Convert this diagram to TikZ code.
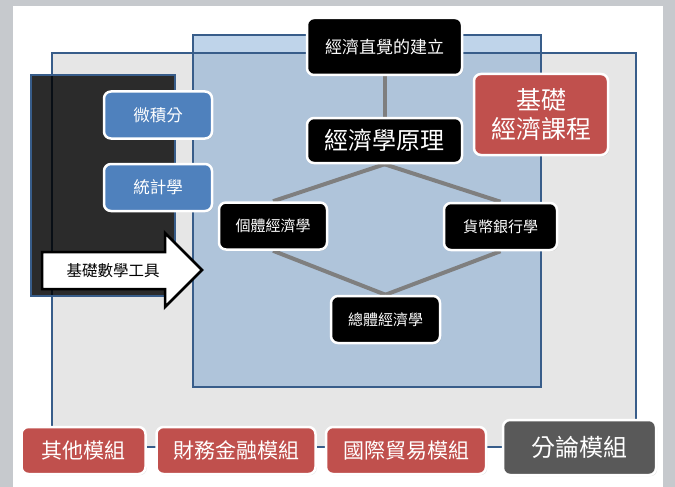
\documentclass[tikz,border=0pt]{standalone}
\usepackage{fontspec}
\setmainfont{Noto Sans CJK TC}
\usetikzlibrary{shadows}
\pgfdeclarelayer{panels}
\pgfdeclarelayer{links}
\pgfsetlayers{panels,links,main}
\definecolor{framegrey}{HTML}{C6C9CD}
\definecolor{panelgrey}{HTML}{E6E6E6}
\definecolor{panelblue}{RGB}{80,136,197}
\definecolor{paneldark}{HTML}{2B2B2B}
\definecolor{edgeblue}{HTML}{385D8A}
\definecolor{boxblue}{HTML}{4F81BD}
\definecolor{boxred}{HTML}{C0504D}
\definecolor{boxdark}{HTML}{595959}
\definecolor{linkgrey}{HTML}{7F7F7F}
\begin{document}
\begin{tikzpicture}[x=1pt,y=-1pt,
  card/.style={rounded corners=7pt, draw=white, line width=2.5pt, inner sep=0pt,
    align=center, text=white,
    drop shadow={opacity=0.25, shadow xshift=1.2pt, shadow yshift=-1.2pt}},
  blackcard/.style={card, fill=black},
  bluecard/.style={card, fill=boxblue},
  redcard/.style={card, fill=boxred},
  darkcard/.style={card, fill=boxdark},
  link/.style={draw=linkgrey, line width=4pt},
  paneledge/.style={draw=edgeblue, line width=1.8pt},
  fs/.style={font=\fontsize{#1}{#1}\selectfont}
]
\useasboundingbox (0,0) rectangle (675,487);
\begin{pgfonlayer}{panels}
\fill[framegrey] (0,0) rectangle (675,487);
\fill[white] (13,6) rectangle (663,487);
\fill[panelgrey] (52,53) rectangle (636,447);
\fill[panelblue, fill opacity=0.36] (193,35) rectangle (541,387);
\draw[paneledge] (52,53) rectangle (636,447);
\draw[paneledge] (193,35) rectangle (541,387);
\fill[paneldark] (31,75) rectangle (175,296);
\draw[paneledge] (31,75) rectangle (175,296);
\draw[draw=black!85!edgeblue, line width=1.8pt] (52,76) -- (52,295);
\end{pgfonlayer}

% arrow
\draw[fill=white, draw=black, line width=2.5pt, line join=miter]
  (42,252) -- (165,252) -- (165,233) -- (202,270) -- (165,307) -- (165,289) -- (42,289) -- cycle;
\node[fs=15.5, text=black] (tools) at (113,271) {基礎數學工具};

% nodes
\node[blackcard, fs=17, minimum width=155pt, minimum height=57pt] (intuition) at (384.5,46.5) {經濟直覺的建立};
\node[blackcard, fs=24, minimum width=155pt, minimum height=45pt] (principles) at (384.5,140.5) {經濟學原理};
\node[redcard, font=\fontsize{25}{29}\selectfont, minimum width=134pt, minimum height=81pt] (basic) at (541,114.5) {基礎\\經濟課程};
\node[bluecard, fs=16.5, minimum width=108pt, minimum height=47pt] (calculus) at (158,115) {微積分};
\node[bluecard, fs=16.5, minimum width=108pt, minimum height=47pt] (stats) at (158,187.5) {統計學};
\node[blackcard, fs=15, minimum width=108pt, minimum height=47pt] (micro) at (273,226) {個體經濟學};
\node[blackcard, fs=15, minimum width=113pt, minimum height=47pt] (money) at (500.5,226.5) {貨幣銀行學};
\node[blackcard, fs=15, minimum width=109pt, minimum height=47pt] (macro) at (385.5,319.5) {總體經濟學};

\node[redcard, fs=21, minimum width=124pt, minimum height=47pt] (other) at (83.5,450.5) {其他模組};
\node[redcard, fs=21, minimum width=159pt, minimum height=47pt] (finance) at (236,450.5) {財務金融模組};
\node[redcard, fs=21, minimum width=160pt, minimum height=47pt] (trade) at (406,450.5) {國際貿易模組};
\node[darkcard, fs=24, minimum width=153pt, minimum height=55pt] (branch) at (579.5,447.5) {分論模組};

% connectors
\begin{pgfonlayer}{links}
\draw[link] (intuition.south) -- (principles.north);
\draw[link] (principles.south) -- (micro.north);
\draw[link] (principles.south) -- (money.north);
\draw[link] (micro.south) -- (macro.north);
\draw[link] (money.south) -- (macro.north);
\end{pgfonlayer}
\end{tikzpicture}
\end{document}
